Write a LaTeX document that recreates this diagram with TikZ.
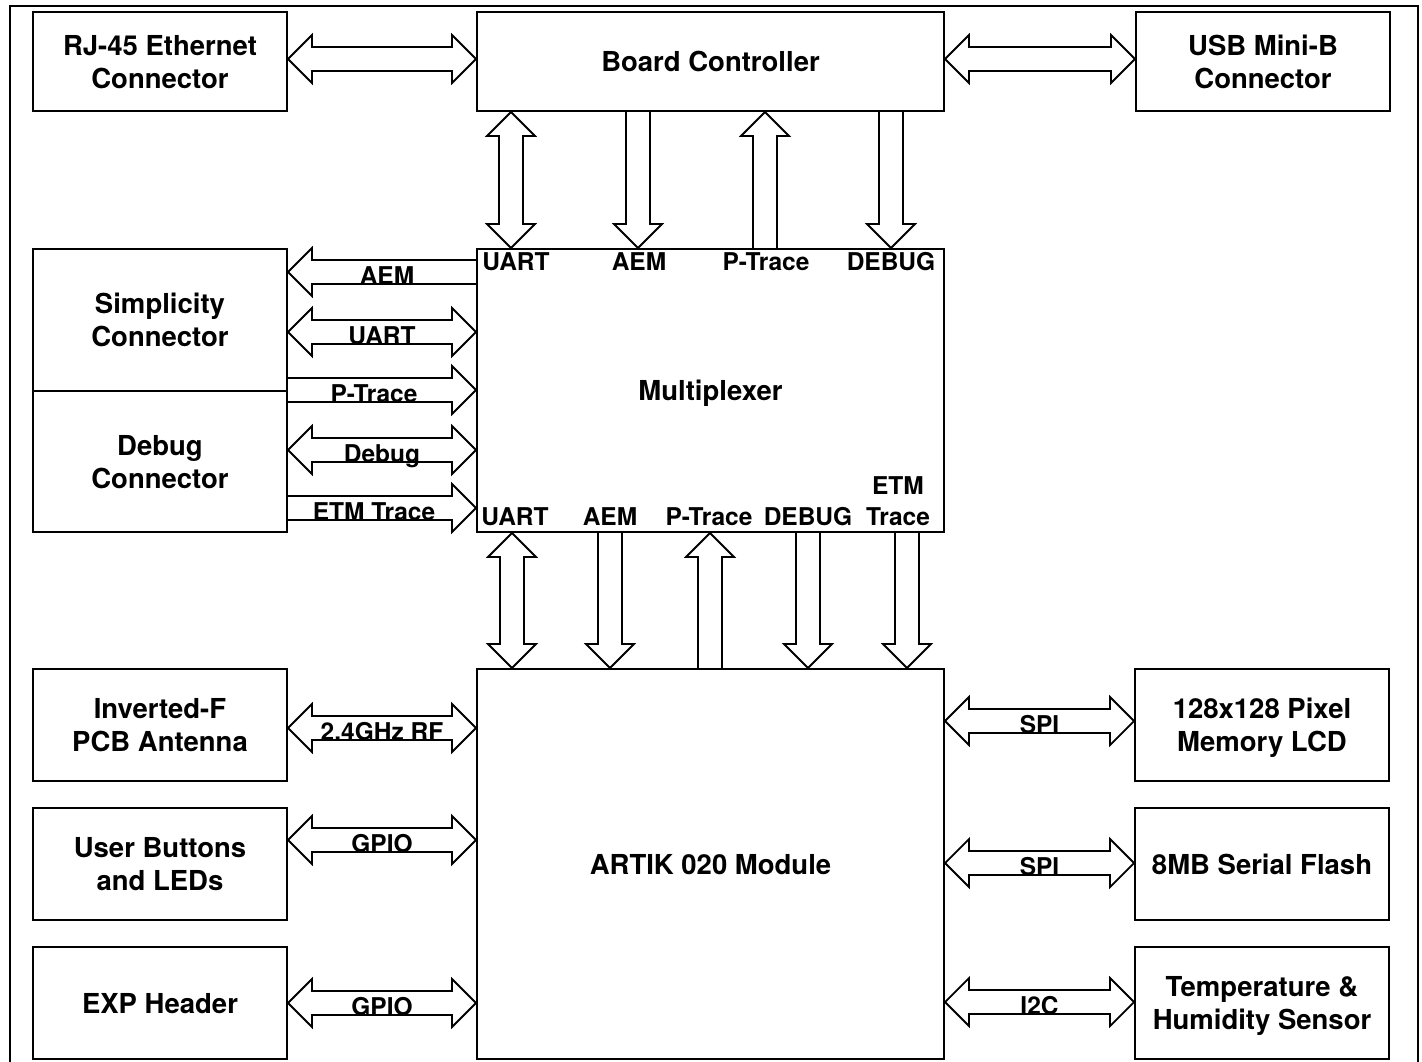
\documentclass[tikz,border=0pt]{standalone}
\usepackage{fontspec}
\setmainfont{TeX Gyre Heros}
\usetikzlibrary{calc}

\def\bsh{12pt}
\def\bhh{24pt}
\def\bhl{24pt}
\newcommand{\busLR}[2]{\draw[bus] let \p1=#1, \p2=#2 in (\x1,\y1) -- (\x1+\bhl,\y1+\bhh) -- (\x1+\bhl,\y1+\bsh) -- (\x2-\bhl,\y1+\bsh) -- (\x2-\bhl,\y1+\bhh) -- (\x2,\y1) -- (\x2-\bhl,\y1-\bhh) -- (\x2-\bhl,\y1-\bsh) -- (\x1+\bhl,\y1-\bsh) -- (\x1+\bhl,\y1-\bhh) -- cycle;}
\newcommand{\busR}[2]{\draw[bus] let \p1=#1, \p2=#2 in (\x1,\y1+\bsh) -- (\x2-\bhl,\y1+\bsh) -- (\x2-\bhl,\y1+\bhh) -- (\x2,\y1) -- (\x2-\bhl,\y1-\bhh) -- (\x2-\bhl,\y1-\bsh) -- (\x1,\y1-\bsh);}
\newcommand{\busL}[2]{\draw[bus] let \p1=#1, \p2=#2 in (\x2,\y1+\bsh) -- (\x1+\bhl,\y1+\bsh) -- (\x1+\bhl,\y1+\bhh) -- (\x1,\y1) -- (\x1+\bhl,\y1-\bhh) -- (\x1+\bhl,\y1-\bsh) -- (\x2,\y1-\bsh);}
\newcommand{\busUD}[2]{\draw[bus] let \p1=#1, \p2=#2 in (\x1,\y1) -- (\x1+\bhh,\y1-\bhl) -- (\x1+\bsh,\y1-\bhl) -- (\x1+\bsh,\y2+\bhl) -- (\x1+\bhh,\y2+\bhl) -- (\x1,\y2) -- (\x1-\bhh,\y2+\bhl) -- (\x1-\bsh,\y2+\bhl) -- (\x1-\bsh,\y1-\bhl) -- (\x1-\bhh,\y1-\bhl) -- cycle;}
\newcommand{\busD}[2]{\draw[bus] let \p1=#1, \p2=#2 in (\x1+\bsh,\y1) -- (\x1+\bsh,\y2+\bhl) -- (\x1+\bhh,\y2+\bhl) -- (\x1,\y2) -- (\x1-\bhh,\y2+\bhl) -- (\x1-\bsh,\y2+\bhl) -- (\x1-\bsh,\y1);}
\newcommand{\busU}[2]{\draw[bus] let \p1=#1, \p2=#2 in (\x1+\bsh,\y2) -- (\x1+\bsh,\y1-\bhl) -- (\x1+\bhh,\y1-\bhl) -- (\x1,\y1) -- (\x1-\bhh,\y1-\bhl) -- (\x1-\bsh,\y1-\bhl) -- (\x1-\bsh,\y2);}

\begin{document}
\begin{tikzpicture}[x=1pt, y=-1pt,
    box/.style={draw, line width=2pt, align=center, inner sep=0pt, text depth=0pt,
      font=\fontsize{27.5}{33}\selectfont\bfseries},
    side/.style={box, minimum width=254, minimum height=112},
    bus/.style={line width=1.8pt, line join=miter},
    lbl/.style={inner sep=0pt, align=center,
      font=\fontsize{24.5}{31}\selectfont\bfseries}]
    \useasboundingbox (0,0) rectangle (1422,1061);
    \draw[line width=2pt] (10,6) rectangle (1418,1080);

    \node[box, minimum width=254, minimum height=99] (rj) at (160,61.5) {RJ-45 Ethernet\\Connector};
    \node[box, minimum width=467, minimum height=99] (board) at (710.5,61.5) {Board Controller};
    \node[box, minimum width=254, minimum height=99] (usb) at (1263,61.5) {USB Mini-B\\Connector};
    \node[box, minimum width=254, minimum height=142] (simp) at (160,320) {Simplicity\\Connector};
    \node[box, minimum width=254, minimum height=141] (dbg) at (160,461.5) {Debug\\Connector};
    \node[box, minimum width=467, minimum height=283] (mux) at (710.5,390.5) {Multiplexer};
    \node[side] (ant) at (160,725) {Inverted-F\\PCB Antenna};
    \node[side] (btn) at (160,864) {User Buttons\\and LEDs};
    \node[side] (exp) at (160,1003) {EXP Header};
    \node[box, minimum width=467, minimum height=390] (artik) at (710.5,864) {ARTIK 020 Module};
    \node[side] (lcd) at (1262,725) {128x128 Pixel\\Memory LCD};
    \node[side] (flash) at (1262,864) {8MB Serial Flash};
    \node[side] (temp) at (1262,1003) {Temperature \&\\Humidity Sensor};

    \coordinate (r0) at (0,59);
    \coordinate (m1) at (0,272);
    \coordinate (m2) at (0,332);
    \coordinate (m3) at (0,390);
    \coordinate (m4) at (0,450);
    \coordinate (m5) at (0,508);
    \coordinate (l1) at (0,728);
    \coordinate (l2) at (0,840);
    \coordinate (l3) at (0,1003);
    \coordinate (q1) at (0,721);
    \coordinate (q2) at (0,863);
    \coordinate (q3) at (0,1002);
    \coordinate (t1) at (511,0);
    \coordinate (t2) at (638,0);
    \coordinate (t3) at (765,0);
    \coordinate (t4) at (891,0);
    \coordinate (b1) at (512,0);
    \coordinate (b2) at (610,0);
    \coordinate (b3) at (710,0);
    \coordinate (b4) at (808,0);
    \coordinate (b5) at (907,0);

    \busLR{(rj.east |- r0)}{(board.west |- r0)}
    \busLR{(board.east |- r0)}{(usb.west |- r0)}

    \busUD{(board.south -| t1)}{(mux.north -| t1)}
    \busD{(board.south -| t2)}{(mux.north -| t2)}
    \busU{(board.south -| t3)}{(mux.north -| t3)}
    \busD{(board.south -| t4)}{(mux.north -| t4)}

    \busL{(simp.east |- m1)}{(mux.west |- m1)}
    \busLR{(simp.east |- m2)}{(mux.west |- m2)}
    \busR{(simp.east |- m3)}{(mux.west |- m3)}
    \busLR{(dbg.east |- m4)}{(mux.west |- m4)}
    \busR{(dbg.east |- m5)}{(mux.west |- m5)}

    \busUD{(mux.south -| b1)}{(artik.north -| b1)}
    \busD{(mux.south -| b2)}{(artik.north -| b2)}
    \busU{(mux.south -| b3)}{(artik.north -| b3)}
    \busD{(mux.south -| b4)}{(artik.north -| b4)}
    \busD{(mux.south -| b5)}{(artik.north -| b5)}

    \busLR{(ant.east |- l1)}{(artik.west |- l1)}
    \busLR{(btn.east |- l2)}{(artik.west |- l2)}
    \busLR{(exp.east |- l3)}{(artik.west |- l3)}
    \busLR{(artik.east |- q1)}{(lcd.west |- q1)}
    \busLR{(artik.east |- q2)}{(flash.west |- q2)}
    \busLR{(artik.east |- q3)}{(temp.west |- q3)}

    \node[lbl, anchor=base] (aem1) at ($(simp.east |- m1)!.5!(mux.west |- m1)+(5,12)$) {AEM};
    \node[lbl, anchor=base] (uart1) at ($(simp.east |- m2)!.5!(mux.west |- m2)+(0,12)$) {UART};
    \node[lbl, anchor=base] (ptr1) at ($(simp.east |- m3)!.5!(mux.west |- m3)+(-8,12)$) {P-Trace};
    \node[lbl, anchor=base] (dbg1) at ($(dbg.east |- m4)!.5!(mux.west |- m4)+(0,12)$) {Debug};
    \node[lbl, anchor=base] (etm1) at ($(dbg.east |- m5)!.5!(mux.west |- m5)+(-8,12)$) {ETM Trace};
    \node[lbl, anchor=base] (rf) at ($(ant.east |- l1)!.5!(artik.west |- l1)+(0,12)$) {2.4GHz RF};
    \node[lbl, anchor=base] (gpio1) at ($(btn.east |- l2)!.5!(artik.west |- l2)+(0,12)$) {GPIO};
    \node[lbl, anchor=base] (gpio2) at ($(exp.east |- l3)!.5!(artik.west |- l3)+(0,12)$) {GPIO};
    \node[lbl, anchor=base] (spi1) at ($(artik.east |- q1)!.5!(lcd.west |- q1)+(0,12)$) {SPI};
    \node[lbl, anchor=base] (spi2) at ($(artik.east |- q2)!.5!(flash.west |- q2)+(0,12)$) {SPI};
    \node[lbl, anchor=base] (i2c) at ($(artik.east |- q3)!.5!(temp.west |- q3)+(0,12)$) {I2C};

    \node[lbl, anchor=base] (muart) at (516,270) {UART};
    \node[lbl, anchor=base] (maem) at (639,270) {AEM};
    \node[lbl, anchor=base] (mptr) at (766,270) {P-Trace};
    \node[lbl, anchor=base] (mdbg) at (891,270) {DEBUG};
    \node[lbl, anchor=base] (nuart) at (515,525) {UART};
    \node[lbl, anchor=base] (naem) at (610,525) {AEM};
    \node[lbl, anchor=base] (nptr) at (709,525) {P-Trace};
    \node[lbl, anchor=base] (ndbg) at (808,525) {DEBUG};
    \node[lbl, anchor=base] (netm) at (898,525) {ETM\\Trace};
\end{tikzpicture}
\end{document}
